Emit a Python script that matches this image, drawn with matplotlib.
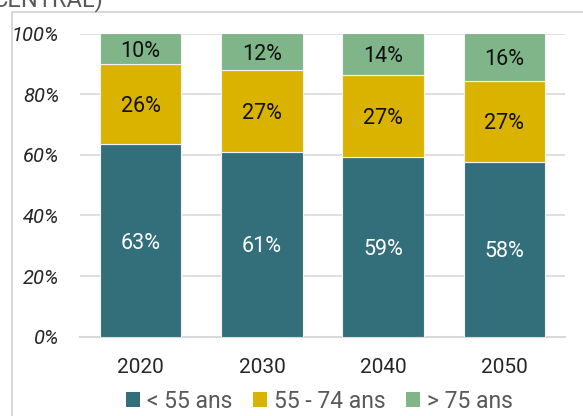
import matplotlib
matplotlib.use("Agg")
import matplotlib.pyplot as plt
from matplotlib.patches import Patch, Rectangle
import numpy as np

plt.rcParams['font.family'] = ['Roboto', 'DejaVu Sans']

years = ["2020", "2030", "2040", "2050"]
under55 = [63.4, 61.0, 59.4, 57.6]
age55_74 = [26.4, 27.0, 26.9, 26.8]
over75 = [10.2, 12.0, 13.7, 15.6]
series_names = ["< 55 ans", "55 - 74 ans", "> 75 ans"]
yticks = [0, 20, 40, 60, 80, 100]
ytick_labels = ["0%", "20%", "40%", "60%", "80%", "100%"]

colors = ["#336e7b", "#dab300", "#80b589"]
label_colors = ["white", "#111111", "#111111"]

W, H = 583, 416
fig = plt.figure(figsize=(W / 100, H / 100), dpi=100)
ax = fig.add_axes([80 / W, 1 - 336.7 / H, (565 - 80) / W, (336.7 - 33.5) / H])

x = np.arange(len(years))
bottom = np.zeros(len(years))
for vals, c, lc in zip([under55, age55_74, over75], colors, label_colors):
    v = np.array(vals)
    ax.bar(x, v, width=0.674, bottom=bottom, color=c,
           edgecolor="#f2f2f2", linewidth=0.8, zorder=3)
    for xi, b, h in zip(x, bottom, v):
        ax.text(xi, b + h / 2, f"{h:.0f}%", ha="center", va="center_baseline",
                fontsize=15.5, color=lc, zorder=4)
    bottom = bottom + v

ax.set_xlim(-0.5, len(years) - 0.5)
ax.set_ylim(0, 100)
ax.set_yticks(yticks)
ax.set_yticklabels(ytick_labels, fontstyle="italic", fontsize=14.5, color="#262626")
ax.set_xticks(x)
ax.set_xticklabels(years, fontsize=15, color="#262626")
ax.tick_params(axis="y", length=0, pad=15)
ax.tick_params(axis="x", length=0, pad=15.5)
ax.grid(axis="y", color="#d9d9d9", linewidth=1.2, zorder=0)
for s in ["top", "right", "left"]:
    ax.spines[s].set_visible(False)
ax.spines["bottom"].set_color("#d9d9d9")
ax.spines["bottom"].set_linewidth(1.5)
ax.set_axisbelow(True)

# outer chart border (partially visible)
fig.add_artist(Rectangle((11.5 / W, -0.1), 1.2, 1 - 11.5 / H + 0.1,
                         transform=fig.transFigure, fill=False,
                         edgecolor="#d9d9d9", linewidth=1.5))

# cropped title
fig.text(103 / W, 1 - 6 / H, "CENTRAL)", ha="right", va="baseline",
         fontsize=17, color="#595959")

handles = [Patch(facecolor=c, edgecolor="none") for c in colors]
fig.legend(handles, series_names, loc="center",
           bbox_to_anchor=(319.5 / W, 1 - 401 / H), ncol=3, frameon=False,
           fontsize=16.5, labelcolor="#595959", handlelength=0.6,
           handleheight=0.6, handletextpad=0.3, columnspacing=0.9,
           borderaxespad=0, borderpad=0)

fig.savefig("out.png", dpi=100)
